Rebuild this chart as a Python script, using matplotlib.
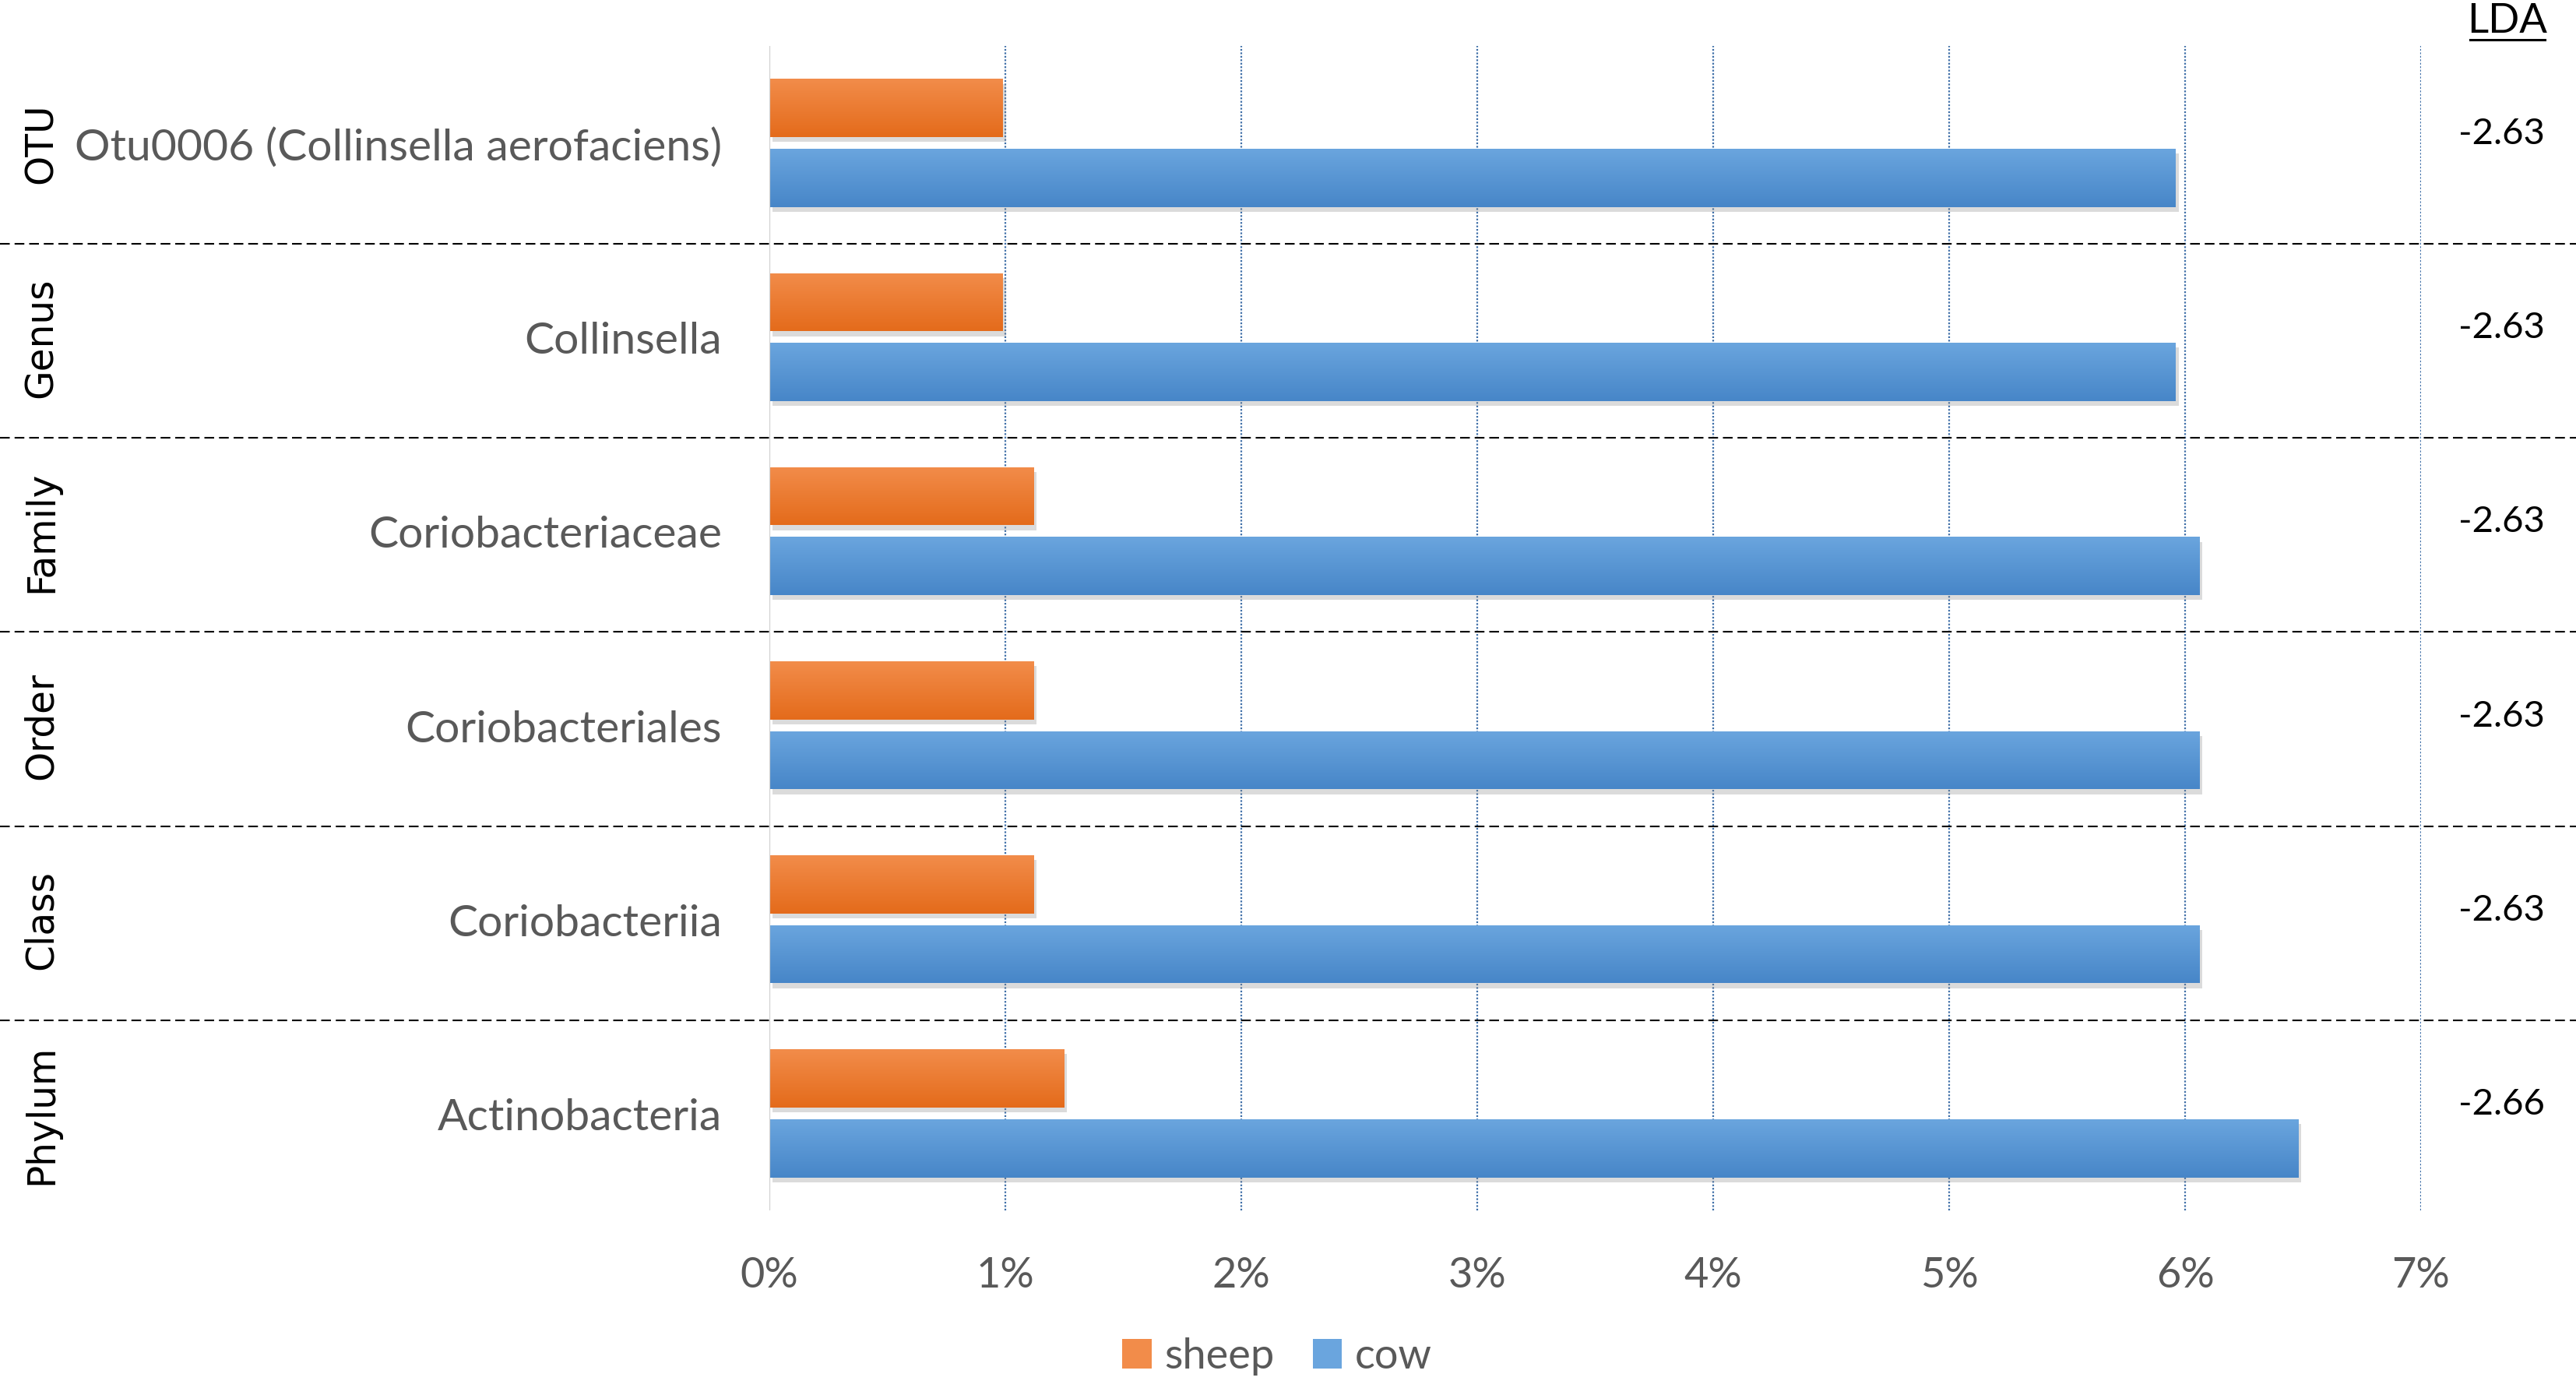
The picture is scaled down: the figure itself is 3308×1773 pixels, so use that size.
import numpy as np
import matplotlib
matplotlib.use('Agg')
import matplotlib.pyplot as plt
import matplotlib.transforms as mtransforms
from matplotlib.lines import Line2D
from matplotlib.patches import Patch

# Taxonomic levels (top to bottom), taxa names and relative abundance in %
levels = ['OTU', 'Genus', 'Family', 'Order', 'Class', 'Phylum']
taxa = ['Otu0006 (Collinsella aerofaciens)', 'Collinsella', 'Coriobacteriaceae',
        'Coriobacteriales', 'Coriobacteriia', 'Actinobacteria']
sheep = [0.99, 0.99, 1.12, 1.12, 1.12, 1.25]
cow = [5.96, 5.96, 6.06, 6.06, 6.06, 6.48]
lda = ['-2.63', '-2.63', '-2.63', '-2.63', '-2.63', '-2.66']
xticks = [0, 1, 2, 3, 4, 5, 6, 7]

TXT = '#595959'
ORANGE = ('#F28C4A', '#E46B1B')
BLUE = ('#6AA5DE', '#4786C8')

plt.rcParams['font.family'] = ['Lato', 'DejaVu Sans']

W, H = 3308, 1774
fig = plt.figure(figsize=(W / 100, H / 100), dpi=100)
ax = fig.add_axes([988 / W, 1 - 1555 / H, (3109 - 988) / W, (1555 - 60) / H])

y = np.arange(len(levels))
bar_h = 0.30
off = 0.18


# Draw bars with a vertical gradient and a soft shadow
def grad_bars(ax, ypos, vals, cols):
    bars = ax.barh(ypos, vals, height=bar_h, color=cols[0], zorder=3)
    c1 = np.array(matplotlib.colors.to_rgb(cols[0]))
    c2 = np.array(matplotlib.colors.to_rgb(cols[1]))
    t = np.linspace(0, 1, 64)[:, None]
    img = (c1 * (1 - t) + c2 * t)[:, None, :]
    for b in bars:
        x0, y0 = b.get_x(), b.get_y()
        w, h = b.get_width(), b.get_height()
        ax.add_patch(plt.Rectangle((x0 + 0.012, y0 + 0.025), w, h, color='#8a8a8a',
                                   alpha=0.3, zorder=2, lw=0))
        im = ax.imshow(img, extent=[x0, x0 + w, y0 + h, y0], aspect='auto',
                       zorder=4, interpolation='bicubic')
        im.set_clip_path(b)
    return bars


grad_bars(ax, y - off, sheep, ORANGE)
grad_bars(ax, y + off, cow, BLUE)

ax.set_xlim(0, 7)
ax.set_ylim(len(levels) - 0.5, -0.5)

# dotted vertical gridlines
for xv in xticks[1:]:
    ax.axvline(xv, color='#3F6FA8', lw=1.6, ls=(0, (1, 1)), zorder=1)
ax.axvline(0, color='#D0D0D0', lw=1.6, zorder=5)

for s in ax.spines.values():
    s.set_visible(False)
ax.set_xticks(xticks)
ax.set_xticklabels(['{}%'.format(v) for v in xticks])
ax.tick_params(axis='x', length=0, pad=42, labelsize=39, labelcolor=TXT)
ax.set_yticks(y)
ax.set_yticklabels(taxa)
ax.tick_params(axis='y', length=0, pad=44, labelsize=41, labelcolor=TXT)

# dashed separators across the whole figure
trans = mtransforms.blended_transform_factory(fig.transFigure, ax.transData)
for yy in y[:-1] + 0.52:
    fig.add_artist(Line2D([0, 1], [yy, yy], transform=trans, color='black',
                          lw=1.5, ls=(0, (6, 3))))

# taxonomic level labels on the left
for yy, lv in zip(y, levels):
    fig.text(53 / W, yy, lv, transform=trans, rotation=90, ha='center', va='center',
             fontsize=35, family='DejaVu Sans', color='black')

# LDA column
for yy, v in zip(y, lda):
    fig.text(3212 / W, yy - 0.05, v, transform=trans, ha='center', va='center',
             fontsize=34, color='black')
fig.text(3220 / W, 1 - 28 / H, 'LDA', ha='center', va='center', fontsize=38, color='black')
fig.add_artist(Line2D([3172 / W, 3268 / W], [1 - 52 / H, 1 - 52 / H], color='black', lw=2.2))

handles = [Patch(facecolor=ORANGE[0], edgecolor='none', label='sheep'),
           Patch(facecolor=BLUE[0], edgecolor='none', label='cow')]
leg = fig.legend(handles=handles, loc='center', bbox_to_anchor=(1640 / W, 1 - 1742 / H),
                 ncol=2, frameon=False, fontsize=39, handlelength=0.7, handleheight=0.7,
                 handletextpad=0.3, columnspacing=0.9)
for t in leg.get_texts():
    t.set_color(TXT)

fig.savefig('out.png', dpi=100, facecolor='white')
